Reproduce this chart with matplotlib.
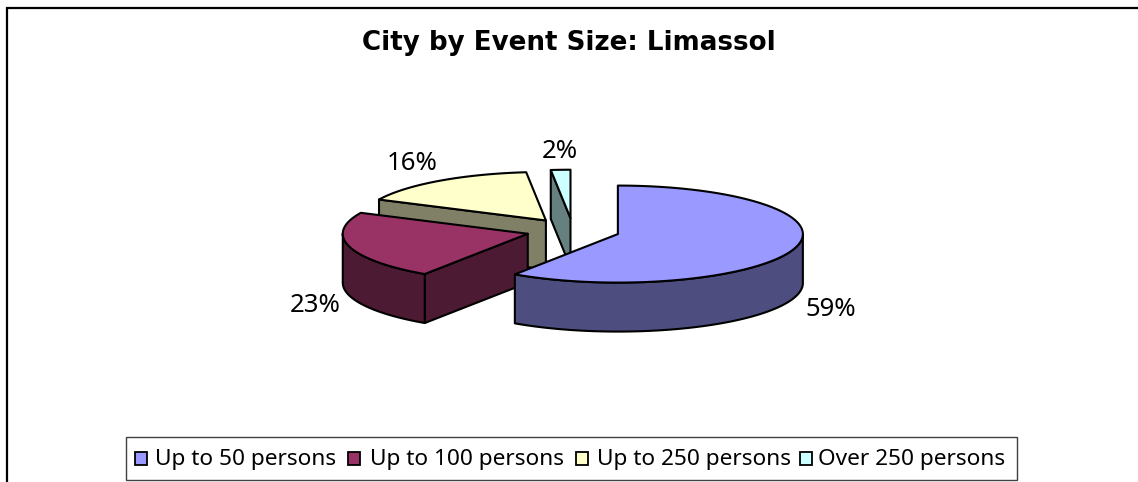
import numpy as np
import matplotlib
matplotlib.use("Agg")
import matplotlib.pyplot as plt
from matplotlib.patches import Polygon, Rectangle

plt.rcParams['font.family'] = ['Noto Sans', 'DejaVu Sans']

# data
categories = ['Up to 50 persons', 'Up to 100 persons', 'Up to 250 persons', 'Over 250 persons']
values = [59.4, 22.7, 16.2, 1.7]
top_colors = ['#9999FF', '#993366', '#FFFFCC', '#CCFFFF']
side_colors = ['#4D4D80', '#4D1A33', '#808066', '#668080']

# pie geometry, in pixels
W, H = 1138, 482
cx, cy = 573, 230.5
rx, ry = 185, 48.5
depth = 49
explode = 0.2535
lw = 1.5

fig = plt.figure(figsize=(W / 100, H / 100), dpi=100)
ax = fig.add_axes([0, 0, 1, 1])
ax.set_xlim(0, W)
ax.set_ylim(H, 0)
ax.axis('off')


def arc(x0, y0, a, b):
    t = np.radians(np.linspace(a, b, max(int(abs(b - a)) * 2, 2)))
    return np.column_stack([x0 + rx * np.sin(t), y0 - ry * np.cos(t)])


# outer frame, open on the right
ax.plot([7, 7, W], [H, 8, 8], color='black', lw=1.6, solid_joinstyle='miter')

# slices clockwise from 12 o'clock
edges = np.concatenate([[0], np.cumsum(values)]) / sum(values) * 360
slices = []
for i in range(len(values)):
    a, b = edges[i], edges[i + 1]
    mid = np.radians((a + b) / 2)
    x0 = cx + explode * rx * np.sin(mid)
    y0 = cy - explode * ry * np.cos(mid)
    slices.append((i, a, b, x0, y0))

# painter order: the small back slices first
for i, a, b, x0, y0 in slices[::-1]:
    side = dict(facecolor=side_colors[i], edgecolor='black', lw=lw, joinstyle='round')
    if np.sin(np.radians(a)) < -1e-6:
        p = arc(x0, y0, a, a)[0]
        ax.add_patch(Polygon([(x0, y0), p, (p[0], p[1] + depth), (x0, y0 + depth)], **side))
    lo, hi = max(a, 90), min(b, 270)
    if lo < hi:
        rim = arc(x0, y0, lo, hi)
        ax.add_patch(Polygon(np.vstack([rim, (rim + [0, depth])[::-1]]), **side))
    top = np.vstack([[(x0, y0)], arc(x0, y0, a, b)])
    ax.add_patch(Polygon(top, facecolor=top_colors[i], edgecolor='black', lw=lw, joinstyle='round'))

# texts
ax.text(569, 43, 'City by Event Size: Limassol', fontsize=18.8, fontweight='bold',
        family='DejaVu Sans', ha='center', va='center')

label_pos = [(831, 310), (315, 306), (412, 163), (560, 152)]
for v, (x, y) in zip(values, label_pos):
    ax.text(x, y, f'{round(v)}%', fontsize=18.5, ha='center', va='center')

# legend
ax.add_patch(Rectangle((126, 436.5), 891, 43.5, facecolor='white', edgecolor='#404040', lw=1))
swatch_x = [135.5, 348, 576, 800]
text_x = [155, 370, 597, 818]
for i, c in enumerate(categories):
    ax.add_patch(Rectangle((swatch_x[i], 452), 12, 12.5, facecolor=top_colors[i], edgecolor='black', lw=1.3))
    ax.text(text_x[i], 459, c, fontsize=16.3, ha='left', va='center')

fig.savefig('out.png', dpi=100)
